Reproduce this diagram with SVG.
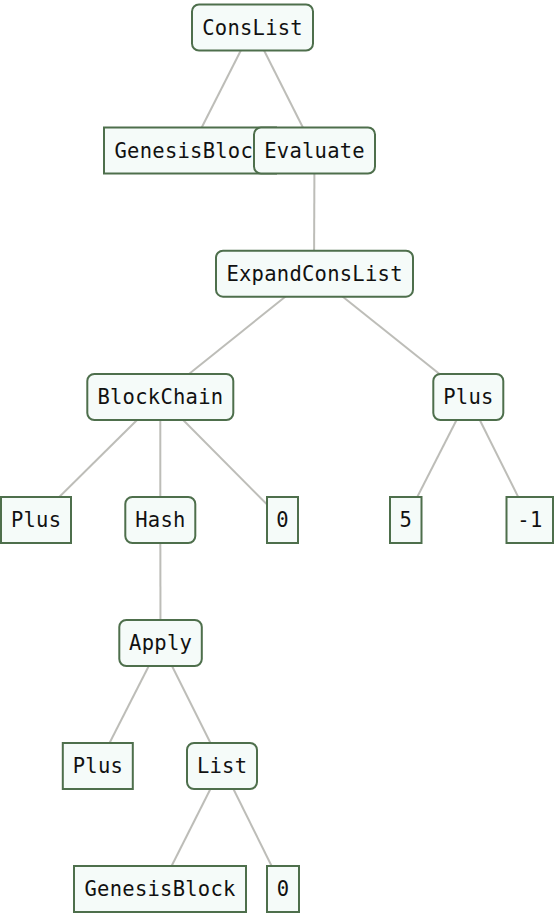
<svg xmlns="http://www.w3.org/2000/svg" width="556" height="918" viewBox="0 0 556 918">
<style>
.bg{fill:#ffffff}
.edge{stroke:#bdbdb8;stroke-width:2;fill:none}
.box{fill:#f5fbf9;stroke:#4e6f4c;stroke-width:2}
.lbl{font-family:"DejaVu Sans Mono","Liberation Mono",monospace;font-size:20.5px;letter-spacing:0.25px;fill:#111111;text-anchor:middle}
</style>
<rect class="bg" x="0" y="0" width="556" height="918"/>
<g id="connectors">
<line class="edge" x1="252.5" y1="27.5" x2="190" y2="150.5"/>
<line class="edge" x1="252.5" y1="27.5" x2="314.5" y2="150.5"/>
<line class="edge" x1="314.5" y1="150.5" x2="314" y2="273.7"/>
<line class="edge" x1="314" y1="273.7" x2="160.3" y2="397"/>
<line class="edge" x1="314" y1="273.7" x2="468.3" y2="397"/>
<line class="edge" x1="160.3" y1="397" x2="36" y2="520"/>
<line class="edge" x1="160.3" y1="397" x2="160.3" y2="520"/>
<line class="edge" x1="160.3" y1="397" x2="282.5" y2="520"/>
<line class="edge" x1="468.3" y1="397" x2="405.5" y2="520"/>
<line class="edge" x1="468.3" y1="397" x2="529.7" y2="520"/>
<line class="edge" x1="160.3" y1="520" x2="160.5" y2="643"/>
<line class="edge" x1="160.5" y1="643" x2="97.8" y2="766"/>
<line class="edge" x1="160.5" y1="643" x2="222" y2="766"/>
<line class="edge" x1="222" y1="766" x2="160" y2="889"/>
<line class="edge" x1="222" y1="766" x2="283" y2="889"/>
</g>
<g id="n-conslist"><rect class="box" x="192" y="4.5" width="121" height="46" rx="7"/><text class="lbl" x="252.6" y="34.8">ConsList</text></g>
<g id="n-genesis1"><rect class="box" x="104" y="127.5" width="172" height="46"/><text class="lbl" x="190.1" y="157.8">GenesisBlock</text></g>
<g id="n-evaluate"><rect class="box" x="254" y="127.5" width="121" height="46" rx="7"/><text class="lbl" x="314.6" y="157.8">Evaluate</text></g>
<g id="n-expand"><rect class="box" x="216" y="250.7" width="197" height="46" rx="7"/><text class="lbl" x="314.6" y="281">ExpandConsList</text></g>
<g id="n-blockchain"><rect class="box" x="87.3" y="374" width="146" height="46" rx="7"/><text class="lbl" x="160.4" y="404.3">BlockChain</text></g>
<g id="n-plus1"><rect class="box" x="433.3" y="374" width="70" height="46" rx="7"/><text class="lbl" x="468.4" y="404.3">Plus</text></g>
<g id="n-plus2"><rect class="box" x="1" y="497" width="70" height="46"/><text class="lbl" x="36.1" y="527.3">Plus</text></g>
<g id="n-hash"><rect class="box" x="125.3" y="497" width="70" height="46" rx="7"/><text class="lbl" x="160.4" y="527.3">Hash</text></g>
<g id="n-zero1"><rect class="box" x="267" y="497" width="31" height="46"/><text class="lbl" x="282.6" y="527.3">0</text></g>
<g id="n-five"><rect class="box" x="390" y="497" width="31.5" height="46"/><text class="lbl" x="405.9" y="527.3">5</text></g>
<g id="n-minus1"><rect class="box" x="506.5" y="497" width="46.5" height="46"/><text class="lbl" x="529.9" y="527.3">-1</text></g>
<g id="n-apply"><rect class="box" x="119.3" y="620" width="82.5" height="46" rx="7"/><text class="lbl" x="160.6" y="650.3">Apply</text></g>
<g id="n-plus3"><rect class="box" x="62.8" y="743" width="70" height="46"/><text class="lbl" x="97.9" y="773.3">Plus</text></g>
<g id="n-list"><rect class="box" x="187" y="743" width="70" height="46" rx="7"/><text class="lbl" x="222.1" y="773.3">List</text></g>
<g id="n-genesis2"><rect class="box" x="74" y="866" width="172" height="46"/><text class="lbl" x="160.1" y="896.3">GenesisBlock</text></g>
<g id="n-zero2"><rect class="box" x="267" y="866" width="32" height="46"/><text class="lbl" x="283.1" y="896.3">0</text></g>
</svg>
